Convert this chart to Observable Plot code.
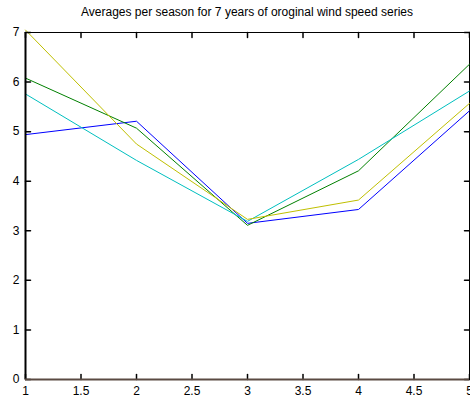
<!DOCTYPE html>
<html>
<head>
<meta charset="utf-8">
<script src="https://cdn.jsdelivr.net/npm/d3@7"></script>
<script src="https://cdn.jsdelivr.net/npm/@observablehq/plot@0.6"></script>
<style>
  html, body { margin: 0; padding: 0; background: #fff; overflow: hidden; }
  #wrap { width: 470px; height: 397px; position: relative; font-family: "Liberation Sans", Arial, sans-serif; }
  #title { height: 24px; font-size: 12px; line-height: 14px; padding-top: 5px; box-sizing: border-box;
           margin-left: 25px; width: 444px; text-align: center; color: #000; white-space: nowrap; }
  svg { display: block; overflow: visible; }
</style>
</head>
<body>
<div id="wrap">
  <div id="title">Averages per season for 7 years of oroginal wind speed series</div>
  <div id="chart"></div>
</div>
<script>
// Season index along x, and the mean wind speed of each of the four series
const seasons = [1, 2, 3, 4, 5];
const series1 = [4.94, 5.21, 3.15, 3.43, 5.42];
const series2 = [6.08, 5.07, 3.11, 4.21, 6.36];
const series3 = [5.76, 4.42, 3.19, 4.44, 5.82];
const series4 = [7.05, 4.75, 3.23, 3.62, 5.57];

const seriesNames  = ["s1", "s2", "s3", "s4"];
const seriesColors = ["#0000ff", "#008000", "#00bfbf", "#bfbf00"];
const xTicks = [1, 1.5, 2, 2.5, 3, 3.5, 4, 4.5, 5];
const yTicks = [0, 1, 2, 3, 4, 5, 6, 7];

const allSeries = [series1, series2, series3, series4];
const rows = allSeries.flatMap((vals, i) =>
  vals.map((v, j) => ({series: seriesNames[i], season: seasons[j], value: v})));

// short straight stroke used for the inward tick marks
const tickShape = {draw(context, l) { context.moveTo(0, 0); context.lineTo(0, -l); }};
const tickOpts = {length: 5, anchor: "start", shape: tickShape, stroke: "#000", strokeWidth: 1.5};

const chart = Plot.plot({
  width: 470,
  height: 373,
  marginLeft: 25,
  marginRight: 1,
  marginTop: 8,
  marginBottom: 18,
  style: {fontFamily: "Liberation Sans, Arial, sans-serif", fontSize: "12px", color: "#000", background: "#fff", overflow: "visible"},
  x: {domain: [1, 5], label: null},
  y: {domain: [0, 7], label: null},
  color: {domain: seriesNames, range: seriesColors},
  marks: [
    // box frame
    Plot.frame({stroke: "#000", strokeWidth: 1}),
    // data lines
    Plot.line(rows, {x: "season", y: "value", z: "series", stroke: "series", strokeWidth: 1}),
    // inward tick marks on all four sides
    Plot.vector(xTicks, {x: d => d, y: yTicks[0], rotate: 0, ...tickOpts}),
    Plot.vector(xTicks, {x: d => d, y: yTicks[yTicks.length - 1], rotate: 180, ...tickOpts}),
    Plot.vector(yTicks, {y: d => d, x: xTicks[0], rotate: 90, ...tickOpts}),
    Plot.vector(yTicks, {y: d => d, x: xTicks[xTicks.length - 1], rotate: 270, ...tickOpts}),
    // tick labels
    Plot.axisX(xTicks, {anchor: "bottom", tickSize: 0, tickPadding: 7, tickFormat: d => String(d), fill: "#000"}),
    Plot.axisY(yTicks, {anchor: "left", tickSize: 0, tickPadding: 6, tickFormat: d => String(d), fill: "#000"}),
    // heavier left and bottom axis lines
    Plot.ruleX([1], {stroke: "#000", strokeWidth: 2}),
    Plot.ruleY([0], {stroke: "#5a4a42", strokeWidth: 2})
  ]
});
document.getElementById("chart").appendChild(chart);
</script>
</body>
</html>
